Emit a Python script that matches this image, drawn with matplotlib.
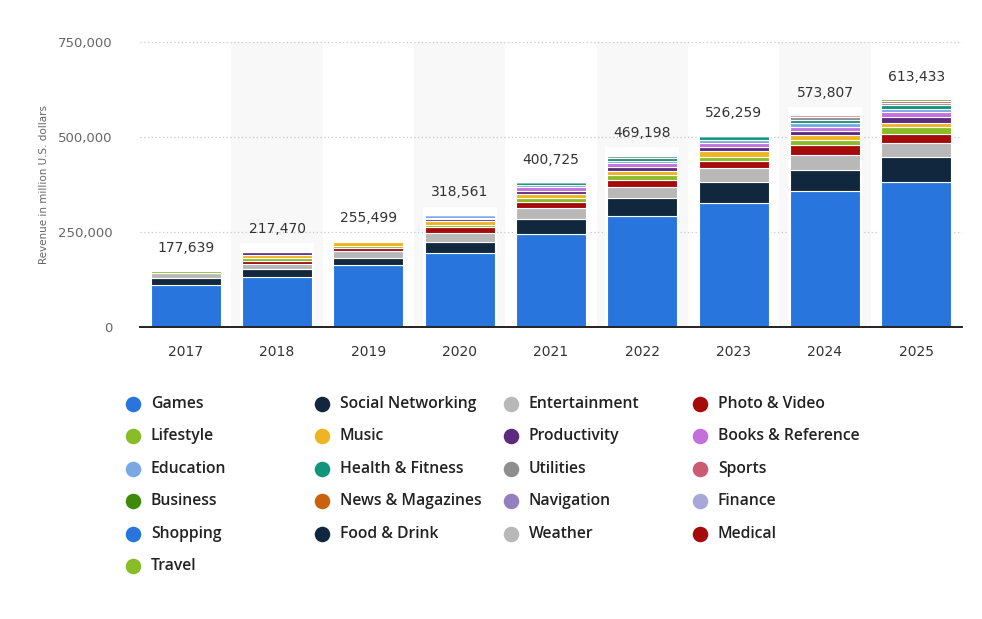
import numpy as np
import matplotlib
matplotlib.use("Agg")
import matplotlib.pyplot as plt

# Datos (millones de USD)
years = ["2017", "2018", "2019", "2020", "2021", "2022", "2023", "2024", "2025"]
total_labels = [177639, 217470, 255499, 318561, 400725, 469198, 526259, 573807, 613433]

categories = ["Games", "Social Networking", "Entertainment", "Photo & Video",
              "Lifestyle", "Music", "Productivity", "Books & Reference",
              "Education", "Health & Fitness", "Utilities", "Sports",
              "Business", "News & Magazines", "Navigation", "Finance",
              "Shopping", "Food & Drink", "Weather", "Medical", "Travel"]

games         = [110500, 132400, 162400, 195500, 244700, 293000, 327000, 357000, 381600]
social        = [18400, 21000, 20000, 29000, 40300, 46000, 54500, 56000, 65000]
entertainment = [13000, 13200, 17600, 23700, 29000, 30500, 36000, 39500, 38400]
photo_video   = [1500, 7100, 7900, 15000, 15800, 18400, 20000, 25500, 23700]
lifestyle     = [5000, 7900, 5300, 5300, 9000, 11600, 10500, 13200, 18400]
music         = [500, 7900, 10500, 10500, 10500, 10500, 15800, 14000, 10500]
productivity  = [300, 7900, 1500, 5300, 9500, 10500, 10500, 11300, 14200]
books         = [200, 500, 500, 2600, 9700, 10500, 9700, 10500, 14700]
education     = [200, 500, 500, 7900, 5300, 6800, 7900, 10500, 7900]
health        = [200, 300, 300, 500, 7100, 7900, 9700, 7100, 8900]
utilities     = [100, 200, 200, 300, 400, 5000, 1000, 7100, 6800]
sports        = [100, 100, 100, 200, 200, 1000, 500, 6000, 4000]
business      = [100, 100, 100, 100, 200, 500, 400, 500, 5700]
news          = [100, 100, 100, 100, 100, 100, 100, 100, 100]
navigation    = [100, 100, 100, 100, 100, 100, 100, 100, 100]
finance       = [100, 100, 100, 100, 100, 100, 100, 100, 100]
shopping      = [100, 100, 100, 100, 100, 100, 100, 100, 100]
food_drink    = [100, 100, 100, 100, 100, 100, 100, 100, 100]
weather       = [100, 100, 100, 100, 100, 100, 100, 100, 100]
medical       = [100, 100, 100, 100, 100, 100, 100, 100, 100]
travel        = [100, 100, 100, 100, 100, 100, 100, 100, 100]

series = [games, social, entertainment, photo_video, lifestyle, music,
          productivity, books, education, health, utilities, sports,
          business, news, navigation, finance, shopping, food_drink,
          weather, medical, travel]

colors = ["#2876dd", "#10273e", "#b8b8b8", "#a50b0b", "#88bc28", "#eeb422",
          "#5c2a7e", "#c36fdc", "#7ba7e3", "#0e957a", "#8e8e8e", "#cc5a74",
          "#3f8a0a", "#c8620c", "#9480bf", "#a8a8d8", "#2876dd", "#10273e",
          "#b8b8b8", "#a50b0b", "#88bc28"]

# Figura
fig = plt.figure(figsize=(9.82, 6.19), dpi=100)
ax = fig.add_axes([140 / 982, 1 - 327 / 619, 822 / 982, 285 / 619])

x = np.arange(len(years))
tops = np.sum(np.array(series), axis=0)

# Bandas alternas de fondo
for i in range(1, len(years), 2):
    ax.axvspan(i - 0.5, i + 0.5, color="#f8f8f8", zorder=0, lw=0)

# Halo blanco detrás de cada barra
ax.bar(x, tops + 20000, width=0.81, color="white", zorder=1, lw=0)

bottom = np.zeros(len(years))
for vals, col in zip(series, colors):
    ax.bar(x, vals, width=0.767, bottom=bottom, color=col,
           edgecolor="white", linewidth=0.8, zorder=2)
    bottom += np.array(vals)

for xi, top, lab in zip(x, tops, total_labels):
    ax.annotate(f"{lab:,}", (xi, top), xytext=(0, 22), textcoords="offset pixels",
                ha="center", va="center", fontsize=10, color="#333333", zorder=3)

ax.set_xlim(-0.5, len(years) - 0.5)
ax.set_ylim(0, 750000)
ax.set_yticks([0, 250000, 500000, 750000])
ax.set_yticklabels(["0", "250,000", "500,000", "750,000"])
ax.set_xticks(x)
ax.set_xticklabels(years)
ax.tick_params(axis="y", length=0, pad=20, labelsize=9.5, labelcolor="#666666")
ax.tick_params(axis="x", length=0, pad=13, labelsize=10, labelcolor="#333333")
ax.yaxis.grid(True, linestyle=(0, (1, 2)), color="#c8c8c8", linewidth=0.9)
ax.set_axisbelow(True)
for s in ["top", "right", "left"]:
    ax.spines[s].set_visible(False)
ax.spines["bottom"].set_color("#222222")
ax.spines["bottom"].set_linewidth(1.4)
ax.spines["bottom"].set_zorder(4)

fig.text(44 / 982, 1 - 185 / 619, "Revenue in million U.S. dollars", rotation=90,
         ha="center", va="center", fontsize=7.5, color="#666666")

# Leyenda manual en 4 columnas
leg = fig.add_axes([0, 0, 1, 1], facecolor="none")
leg.set_xlim(0, 982)
leg.set_ylim(619, 0)
leg.axis("off")
for i, (name, col) in enumerate(zip(categories, colors)):
    row, c = divmod(i, 4)
    lx = 133 + 189 * c
    ly = 404 + 32.4 * row
    leg.scatter([lx], [ly], s=125, color=col, lw=0)
    leg.text(lx + 18, ly, name, ha="left", va="center", fontsize=11.3,
             color="#222222", family=["Open Sans", "DejaVu Sans"], fontweight="semibold")

fig.savefig("out.png", dpi=100)
